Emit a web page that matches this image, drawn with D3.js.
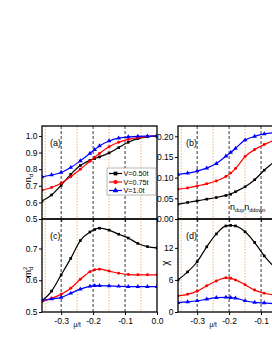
<html>
<head>
  <meta charset="utf-8">
  <title>nd panels</title>
  <script src="https://d3js.org/d3.v7.min.js"></script>
  <style>
    body { margin:0; background:#fff; }
    text { font-family: "Liberation Sans", Arial, sans-serif; }
  </style>
</head>
<body>
<script>
// chemical potential mu/t
var mu = [-0.36,-0.33,-0.30,-0.27,-0.24,-0.21,-0.195,-0.18,-0.15,-0.12,-0.09,-0.06,-0.03,0.0];
var seriesNames = ["V=0.50t", "V=0.75t", "V=1.0t"];

// (a) n_d
var nd050 = [0.608,0.645,0.703,0.769,0.822,0.853,0.864,0.874,0.898,0.930,0.962,0.984,0.995,0.999];
var nd075 = [0.673,0.690,0.715,0.755,0.800,0.848,0.872,0.895,0.935,0.962,0.979,0.990,0.996,1.000];
var nd100 = [0.753,0.765,0.780,0.810,0.850,0.895,0.918,0.940,0.970,0.987,0.994,0.998,0.999,1.000];
// (b) n_dup n_ddown
var dd050 = [0.036,0.040,0.044,0.048,0.052,0.057,0.060,0.066,0.078,0.095,0.118,0.138,0.160,0.180];
var dd075 = [0.072,0.075,0.080,0.085,0.092,0.103,0.111,0.122,0.151,0.168,0.180,0.190,0.196,0.200];
var dd100 = [0.108,0.111,0.116,0.123,0.134,0.152,0.161,0.171,0.191,0.200,0.206,0.209,0.210,0.211];
// (c) m_d^2
var m2050 = [0.535,0.566,0.617,0.669,0.725,0.752,0.760,0.764,0.758,0.745,0.733,0.716,0.706,0.702];
var m2075 = [0.533,0.543,0.556,0.575,0.603,0.627,0.633,0.635,0.629,0.622,0.618,0.617,0.617,0.617];
var m2100 = [0.537,0.541,0.546,0.559,0.572,0.581,0.583,0.583,0.582,0.581,0.580,0.580,0.580,0.580];
// (d) chi
var chi050 = [6.0,7.5,9.4,12.2,14.6,16.1,16.2,16.1,15.0,13.0,10.5,8.5,7.0,6.0];
var chi075 = [3.0,3.3,3.9,4.9,5.8,6.4,6.3,6.0,5.1,4.1,3.5,3.2,3.0,2.9];
var chi100 = [1.75,1.9,2.1,2.4,2.7,2.75,2.7,2.6,2.1,1.8,1.7,1.6,1.55,1.5];

var xTicksLeft = [-0.3,-0.2,-0.1,0.0];
var xTicksRight = [-0.3,-0.2,-0.1];
var dashLines = [-0.3,-0.2,-0.1];
var dotLines = [-0.35,-0.25,-0.15,-0.05];

var colors = ["#000000", "#ff0000", "#0000ff"];
var shapes = [d3.symbolSquare, d3.symbolCircle, d3.symbolTriangle];
var sizes = [7, 7, 9];

var W = 272, H = 352;
var svg = d3.select("body").append("svg").attr("width", W).attr("height", H);

var pw = 115;
var cols = [42, 178];
var rows = [[126, 219], [219, 312]];

function panel(id, col, row, ydom, yticks, yfmt, data, label, xticks) {
  var x0 = cols[col], y0 = rows[row][0], y1 = rows[row][1];
  var x = d3.scaleLinear().domain([-0.36, 0.0]).range([x0, x0 + pw]);
  var y = d3.scaleLinear().domain(ydom).range([y1, y0]);

  svg.append("clipPath").attr("id", "clip" + id)
    .append("rect").attr("x", x0).attr("y", y0).attr("width", pw).attr("height", y1 - y0);
  var g = svg.append("g").attr("clip-path", "url(#clip" + id + ")");

  // guide lines
  g.selectAll(".dot").data(dotLines).enter().append("line")
    .attr("x1", function(d){ return x(d); }).attr("x2", function(d){ return x(d); })
    .attr("y1", y0).attr("y2", y1)
    .attr("stroke", "#f7a95c").attr("stroke-width", 0.9).attr("stroke-dasharray", "1.5,1.5");
  g.selectAll(".dash").data(dashLines).enter().append("line")
    .attr("x1", function(d){ return x(d); }).attr("x2", function(d){ return x(d); })
    .attr("y1", y0).attr("y2", y1)
    .attr("stroke", "#222").attr("stroke-width", 0.9).attr("stroke-dasharray", "3,2");

  var line = d3.line().curve(d3.curveMonotoneX)
    .x(function(d){ return x(d[0]); }).y(function(d){ return y(d[1]); });

  data.forEach(function(vals, i) {
    var pts = mu.map(function(m, j){ return [m, vals[j]]; });
    g.append("path").datum(pts).attr("d", line)
      .attr("fill", "none").attr("stroke", colors[i]).attr("stroke-width", 1.2);
    g.selectAll(".m" + i).data(pts).enter().append("path")
      .attr("d", d3.symbol().type(shapes[i]).size(sizes[i]))
      .attr("transform", function(d){ return "translate(" + x(d[0]) + "," + y(d[1]) + ")"; })
      .attr("fill", colors[i]);
  });

  // frame
  svg.append("rect").attr("x", x0).attr("y", y0).attr("width", pw).attr("height", y1 - y0)
    .attr("fill", "none").attr("stroke", "#000").attr("stroke-width", 1.3);

  var ya = svg.append("g").attr("transform", "translate(" + x0 + ",0)")
    .call(d3.axisLeft(y).tickValues(yticks).tickFormat(d3.format(yfmt)).tickSize(3).tickPadding(1.5));
  ya.select(".domain").remove();
  ya.selectAll("text").attr("font-size", 8.5).attr("font-family", "Liberation Sans, Arial");

  var xa = svg.append("g").attr("transform", "translate(0," + y1 + ")")
    .call(d3.axisBottom(x).tickValues(xticks || xTicksLeft).tickSize(3).tickPadding(3)
      .tickFormat(function(d){ return d === 0 ? "0.0" : d3.format(".1f")(d).replace("\u2212", "-"); }));
  xa.select(".domain").remove();
  if (!xticks) xa.selectAll("text").remove();
  xa.selectAll("text").attr("font-size", 8.5).attr("font-family", "Liberation Sans, Arial");

  svg.append("text").attr("x", x0 + 8).attr("y", y0 + 20).attr("font-size", 9).text(label);
  if (xticks) {
    svg.append("text").attr("x", x((-0.3 + -0.2) / 2)).attr("y", y1 + 15)
      .attr("text-anchor", "middle").attr("font-size", 6.5).text("\u03bc/t");
  }
}

panel("a", 0, 0, [0.5, 1.06], [0.5,0.6,0.7,0.8,0.9,1.0], ".1f", [nd050, nd075, nd100], "(a)", null);
panel("b", 1, 0, [0, 0.225], [0,0.05,0.10,0.15,0.20], ".2f", [dd050, dd075, dd100], "(b)", null);
panel("c", 0, 1, [0.5, 0.793], [0.5,0.6,0.7], ".1f", [m2050, m2075, m2100], "(c)", xTicksLeft);
panel("d", 1, 1, [0, 17.4], [0,6,12], "d", [chi050, chi075, chi100], "(d)", xTicksRight);

// y labels
var yl = svg.append("text").attr("transform", "translate(31,178) rotate(-90)")
  .attr("font-size", 9).attr("text-anchor", "middle");
yl.append("tspan").text("n");
yl.append("tspan").attr("font-size", 6).attr("dy", 2).text("d");

var yl2 = svg.append("text").attr("transform", "translate(31,272) rotate(-90)")
  .attr("font-size", 9).attr("text-anchor", "middle");
yl2.append("tspan").text("m");
yl2.append("tspan").attr("font-size", 6).attr("dy", -4).text("2");
yl2.append("tspan").attr("font-size", 6).attr("dx", -3.5).attr("dy", 6).text("d");

svg.append("text").attr("transform", "translate(169,263) rotate(-90)")
  .attr("font-size", 10).attr("text-anchor", "middle").text("\u03c7");

// n_dup n_ddown annotation
var an = svg.append("text").attr("x", 230).attr("y", 210).attr("font-size", 9);
an.append("tspan").text("n");
an.append("tspan").attr("font-size", 5.5).attr("dy", 2).text("dup");
an.append("tspan").attr("dy", -2).text("n");
an.append("tspan").attr("font-size", 5.5).attr("dy", 2).text("ddown");

// legend in (a)
var lg = svg.append("g");
lg.append("rect").attr("x", 107).attr("y", 168).attr("width", 49).attr("height", 27)
  .attr("fill", "#fff").attr("stroke", "#888").attr("stroke-width", 0.6);
seriesNames.forEach(function(name, i) {
  var yy = 173.5 + i * 8.5;
  lg.append("line").attr("x1", 109).attr("x2", 122).attr("y1", yy).attr("y2", yy)
    .attr("stroke", colors[i]).attr("stroke-width", 1.2);
  lg.append("path").attr("d", d3.symbol().type(shapes[i]).size(14))
    .attr("transform", "translate(115.5," + yy + ")").attr("fill", colors[i]);
  lg.append("text").attr("x", 123.5).attr("y", yy + 2.5).attr("font-size", 7.2).text(name);
});
</script>
</body>
</html>
